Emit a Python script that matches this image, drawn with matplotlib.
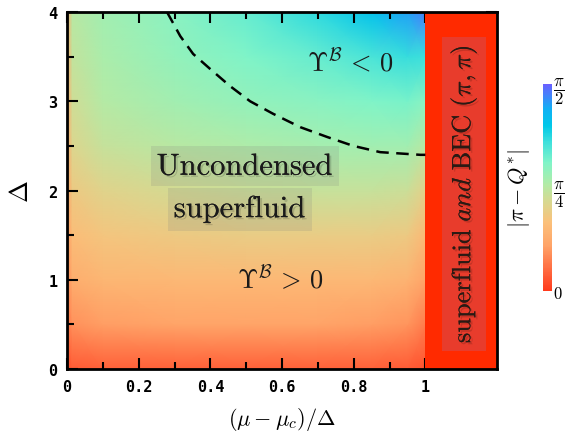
import numpy as np
import matplotlib
matplotlib.use("Agg")
import matplotlib.pyplot as plt
import matplotlib as mpl
import matplotlib.patheffects as pe
from matplotlib.patches import Rectangle

plt.rcParams['mathtext.fontset'] = 'cm'

# |pi - Q*| in units of pi/2
x_grid = [0.0, 0.015, 0.1, 0.3, 0.5, 0.7, 0.85, 0.95, 1.0]
delta_grid = [0.0, 0.5, 1.0, 1.5, 2.0, 2.5, 3.0, 3.5, 4.0]
q_dev = [
    [0.05, 0.07, 0.08, 0.08, 0.08, 0.08, 0.08, 0.07, 0.05],
    [0.12, 0.18, 0.21, 0.22, 0.22, 0.22, 0.21, 0.19, 0.14],
    [0.17, 0.26, 0.29, 0.30, 0.30, 0.30, 0.30, 0.28, 0.22],
    [0.20, 0.32, 0.35, 0.37, 0.38, 0.38, 0.38, 0.37, 0.30],
    [0.22, 0.37, 0.41, 0.44, 0.46, 0.47, 0.47, 0.46, 0.40],
    [0.23, 0.42, 0.47, 0.50, 0.52, 0.54, 0.55, 0.55, 0.50],
    [0.24, 0.45, 0.51, 0.55, 0.58, 0.60, 0.62, 0.63, 0.60],
    [0.25, 0.48, 0.53, 0.58, 0.62, 0.66, 0.70, 0.73, 0.72],
    [0.26, 0.50, 0.55, 0.60, 0.66, 0.74, 0.82, 0.90, 0.95],
]

# Upsilon^B = 0 boundary (dashed)
bnd_x = [0.279, 0.316, 0.352, 0.40, 0.455, 0.511, 0.575, 0.651, 0.726, 0.799, 0.874, 0.986, 1.0]
bnd_delta = [4.0, 3.73, 3.53, 3.36, 3.17, 3.00, 2.86, 2.71, 2.60, 2.50, 2.43, 2.40, 2.40]

x_ticks = [0, 0.2, 0.4, 0.6, 0.8, 1]
x_ticklabels = ['0', '0.2', '0.4', '0.6', '0.8', '1']
y_ticks = [0, 1, 2, 3, 4]
cb_ticks = [0, 0.5, 1.0]
cb_ticklabels = [r'$0$', r'$\dfrac{\pi}{4}$', r'$\dfrac{\pi}{2}$']

cmap = mpl.colors.LinearSegmentedColormap.from_list('qmap', [
    (0.0, '#ff3a1c'), (0.1, '#ff6a40'), (0.22, '#ffa468'), (0.33, '#fbc07a'),
    (0.43, '#d8d890'), (0.52, '#b0eca8'), (0.62, '#80f4c8'), (0.72, '#3ee0dc'),
    (0.80, '#00c8e8'), (0.88, '#10b0f4'), (1.0, '#6a60ff')], 256)

fig = plt.figure(figsize=(5.66, 4.39), dpi=100)
ax = fig.add_axes([0.1184, 0.157, 0.7597, 0.8134])

X, Y = np.meshgrid(x_grid, delta_grid)
mesh = ax.pcolormesh(X, Y, np.array(q_dev), cmap=cmap, vmin=0, vmax=1, shading='gouraud')

# BEC region
ax.axvspan(1.0, 1.2, color='#ff2a00', lw=0, zorder=2)
ax.add_patch(Rectangle((1.047, 0.2), 0.121, 3.52, facecolor='#e83c2c', edgecolor='none', zorder=3))
shadow = [pe.withSimplePatchShadow(offset=(1.5, -1.5), shadow_rgbFace='k', alpha=0.15), pe.Normal()]
ax.text(1.107, 1.96, r'$\mathrm{superfluid}\ \mathit{and}\ \mathrm{BEC}\ (\pi,\pi)$',
        rotation=90, ha='center', va='center', fontsize=19, color='#2a1a14', zorder=4,
        path_effects=shadow)

ax.plot(bnd_x, bnd_delta, color='k', lw=1.8, ls=(0, (5, 3)), zorder=3)

box = dict(facecolor='0.5', alpha=0.18, edgecolor='none', pad=4)
ax.text(0.497, 2.27, r'$\mathrm{Uncondensed}$', ha='center', va='center', fontsize=22,
        color='#1a1a1a', bbox=box, path_effects=shadow, zorder=4)
ax.text(0.483, 1.79, r'$\mathrm{superfluid}$', ha='center', va='center', fontsize=22,
        color='#1a1a1a', bbox=box, path_effects=shadow, zorder=4)
ax.text(0.79, 3.45, r'$\Upsilon^{\mathcal{B}}\,<\,0$', ha='center', va='center', fontsize=19,
        color='#1a1a1a', zorder=4)
ax.text(0.595, 1.01, r'$\Upsilon^{\mathcal{B}}\,>\,0$', ha='center', va='center', fontsize=19,
        color='#1a1a1a', zorder=4)

ax.set_xlim(0, 1.2)
ax.set_ylim(0, 4)
ax.set_xticks(x_ticks)
ax.set_xticklabels(x_ticklabels)
ax.set_yticks(y_ticks)
ax.set_xticks(np.arange(0.1, 1.2, 0.2), minor=True)
ax.set_yticks(np.arange(0.5, 4, 1.0), minor=True)
ax.tick_params(which='both', direction='in', top=True, right=True, width=1.5, zorder=5)
ax.tick_params(which='major', length=8, pad=7)
ax.tick_params(which='minor', length=5)
for lab in ax.get_xticklabels() + ax.get_yticklabels():
    lab.set_family('DejaVu Sans Mono')
    lab.set_weight('bold')
    lab.set_size(11)
for sp in ax.spines.values():
    sp.set_linewidth(2)
    sp.set_zorder(6)

ax.set_xlabel(r'$(\mu-\mu_c)/\Delta$', fontsize=16, labelpad=8)
ax.set_ylabel(r'$\Delta$', fontsize=19, labelpad=10)

cax = fig.add_axes([0.9594, 0.3349, 0.0159, 0.4715])
cb = fig.colorbar(mesh, cax=cax, ticks=cb_ticks)
cb.outline.set_visible(False)
cb.ax.set_yticklabels(cb_ticklabels)
cb.ax.tick_params(length=0, labelsize=12, pad=1)
cb.ax.yaxis.set_label_position('left')
cb.set_label(r'$|\pi - Q^{*}|$', fontsize=16, labelpad=7)

fig.savefig('out.png', dpi=100)
